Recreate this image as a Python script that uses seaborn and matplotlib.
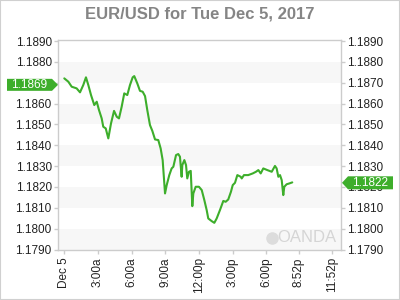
import matplotlib
matplotlib.use("Agg")
import matplotlib.pyplot as plt
import matplotlib.patches as mpatches
import matplotlib.transforms as mtransforms
import seaborn as sns

# ---- data (hours after midnight Dec 5, EUR/USD price) ----
hours = [0.00, 0.36, 0.66, 1.10, 1.40, 1.69, 1.93, 2.14, 2.38, 2.67, 2.89, 3.09,
         3.33, 3.47, 3.69, 3.92, 4.16, 4.43, 4.67, 4.87, 5.11, 5.34, 5.61, 5.85,
         6.09, 6.23, 6.50, 6.74, 6.98, 7.19, 7.39, 7.63, 7.84, 8.08, 8.37, 8.58,
         8.76, 8.97, 9.12, 9.35, 9.56, 9.71, 9.95, 10.15, 10.30, 10.45, 10.51,
         10.69, 10.84, 10.95, 11.10, 11.26, 11.40, 11.49, 11.70, 11.99, 12.24,
         12.47, 12.68, 12.82, 13.13, 13.36, 13.57, 13.86, 14.16, 14.37, 14.60,
         14.84, 15.00, 15.20, 15.41, 15.71, 15.80, 16.00, 16.38, 16.78, 17.07,
         17.28, 17.49, 17.72, 18.08, 18.47, 18.76, 18.91, 19.06, 19.21, 19.36,
         19.50, 19.59, 19.80, 20.04, 20.30]
prices = [1.18721, 1.18705, 1.18681, 1.18673, 1.18654, 1.18689, 1.18726, 1.18689,
          1.18641, 1.18593, 1.18609, 1.18569, 1.18529, 1.18489, 1.18481, 1.18433,
          1.18505, 1.18565, 1.18537, 1.18529, 1.18585, 1.18649, 1.18641, 1.18689,
          1.18726, 1.18732, 1.18697, 1.18661, 1.18657, 1.18636, 1.18569, 1.18497,
          1.18469, 1.18428, 1.18425, 1.18385, 1.18329, 1.18169, 1.18209, 1.18257,
          1.18289, 1.18297, 1.18353, 1.18358, 1.18345, 1.18249, 1.18305, 1.18329,
          1.18305, 1.18241, 1.18273, 1.18277, 1.18108, 1.18169, 1.18201, 1.18201,
          1.18185, 1.18137, 1.18089, 1.18049, 1.18036, 1.18028, 1.18049, 1.18089,
          1.18133, 1.18129, 1.18140, 1.18177, 1.18209, 1.18220, 1.18257, 1.18249,
          1.18241, 1.18257, 1.18257, 1.18265, 1.18273, 1.18281, 1.18265, 1.18289,
          1.18281, 1.18273, 1.18301, 1.18289, 1.18249, 1.18257, 1.18233, 1.18161,
          1.18201, 1.18213, 1.18217, 1.18222]

tick_hours = [0, 3, 6, 9, 12, 15, 18, 20 + 52 / 60, 23 + 52 / 60]
tick_labels = ["Dec 5", "3:00a", "6:00a", "9:00a", "12:00p", "3:00p", "6:00p",
               "8:52p", "11:52p"]
y_ticks = [1.1790, 1.1800, 1.1810, 1.1820, 1.1830, 1.1840, 1.1850, 1.1860,
           1.1870, 1.1880, 1.1890]
band_starts = [1.1790, 1.1810, 1.1830, 1.1850, 1.1870]
open_price = 1.1869
last_price = 1.1822
title = "EUR/USD for Tue Dec 5, 2017"

GREEN = "#3dae2b"
BORDER = "#cccccc"

sns.set_style("white")
plt.rcParams["font.family"] = ["Liberation Sans", "DejaVu Sans"]

fig = plt.figure(figsize=(4, 3), dpi=100)
ax = fig.add_axes([0.145, 0.1683, 0.7075, 0.6983])

for lo in band_starts:
    ax.axhspan(lo, lo + 0.001, color="#f7f7f7", lw=0, zorder=0)

sns.lineplot(x=hours, y=prices, ax=ax, color=GREEN, linewidth=1.5, zorder=3)

ax.set_xlim(-0.56, 24.64)
ax.set_ylim(1.1790, 1.18905)

ax.set_yticks(y_ticks)
ax.set_yticklabels([f"{v:.4f}" for v in y_ticks])
ax.set_xticks(tick_hours)
ax.set_xticklabels(tick_labels, rotation=90, va="top", ha="center")

for s in ax.spines.values():
    s.set_color(BORDER)
    s.set_linewidth(1)
    s.set_visible(True)

ax.tick_params(axis="y", left=True, right=True, labelleft=True, labelright=True,
               length=3, width=1, color=BORDER, labelsize=8.5, labelcolor="#222222",
               pad=1.5, direction="out")
ax.tick_params(axis="x", bottom=True, length=3, width=1, color=BORDER,
               labelsize=8.5, labelcolor="#222222", pad=2.5, direction="out")
ax.set_xlabel("")
ax.set_ylabel("")

# left label under the open-price tag is hidden in the reference
for t, v in zip(ax.yaxis.get_major_ticks(), y_ticks):
    if abs(v - round(open_price, 3)) < 1e-6:
        t.label1.set_visible(False)

# title
fig.text(0.5, 1 - 14 / 300, title, ha="center", va="center", fontsize=12,
         fontweight="bold", color="#858585")

# price tags
blend = mtransforms.blended_transform_factory(ax.transAxes, ax.transData)
ident = mtransforms.IdentityTransform()

x0, yo = blend.transform((0, open_price))
h = 6
pts = [(x0, yo), (x0 - 6, yo + h), (x0 - 51, yo + h), (x0 - 51, yo - h), (x0 - 6, yo - h)]
fig.add_artist(mpatches.Polygon(pts, closed=True, transform=ident, fc=GREEN, ec="none"))
fig.text(x0 - 28.5, yo, f"{open_price:.4f}", transform=ident, ha="center",
         va="center", color="white", fontsize=8.5)

x1, yl = blend.transform((1, last_price))
h = 6.5
pts = [(x1 + 1, yl), (x1 + 7, yl + h), (x1 + 52, yl + h), (x1 + 52, yl - h), (x1 + 7, yl - h)]
fig.add_artist(mpatches.Polygon(pts, closed=True, transform=ident, fc=GREEN, ec="none"))
fig.text(x1 + 29.5, yl, f"{last_price:.4f}", transform=ident, ha="center",
         va="center", color="white", fontsize=8.5)

# watermark
ax.plot([0.755], [0.056], marker="o", markersize=8, color="#dcdcdc",
        transform=ax.transAxes, zorder=2)
ax.text(0.775, 0.056, "OANDA", transform=ax.transAxes, ha="left", va="center",
        fontsize=12, color="#d5d5d5", zorder=2)

# outer frame
fig.add_artist(mpatches.Rectangle((0, 0), 1, 1, transform=fig.transFigure,
                                  fill=False, ec="#d0d0d0", lw=1.5))

fig.savefig("out.png", dpi=100)
